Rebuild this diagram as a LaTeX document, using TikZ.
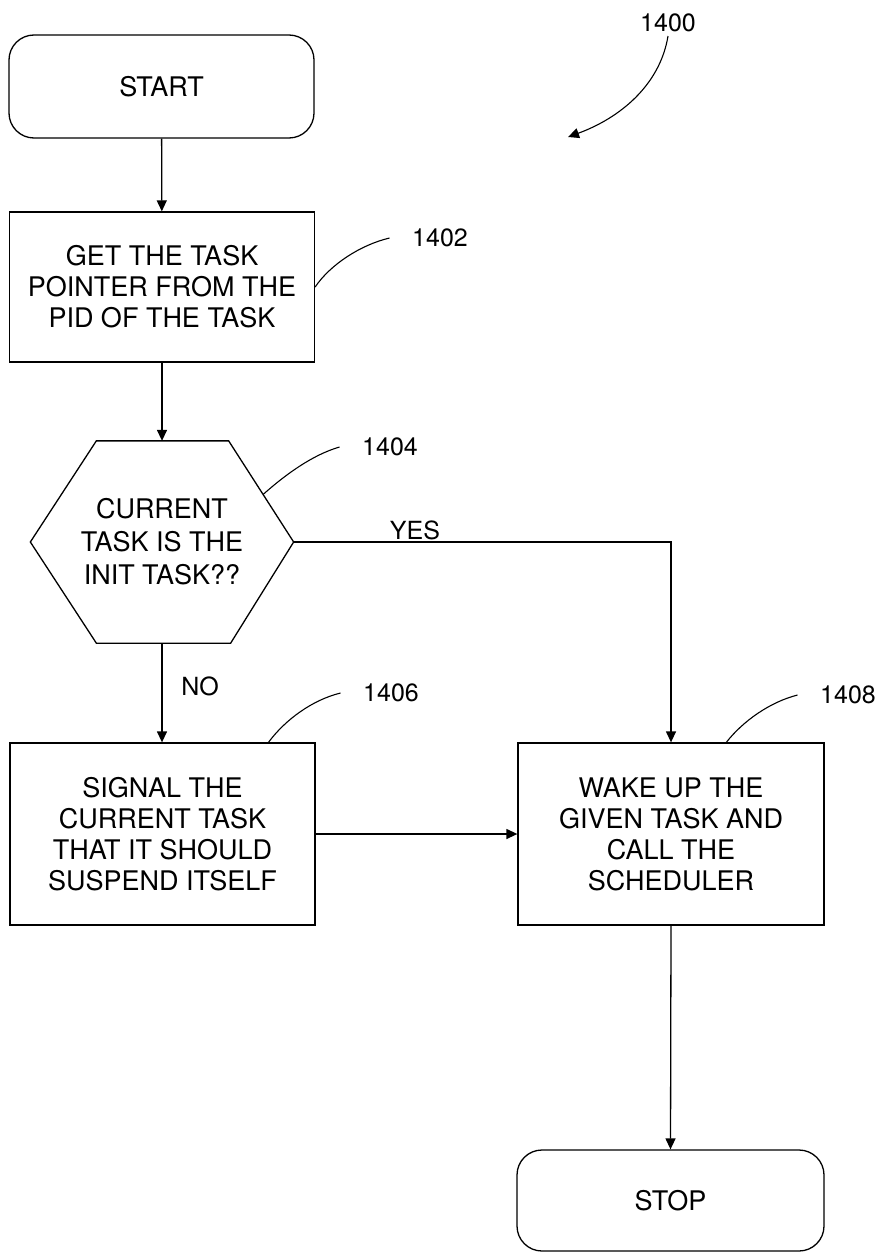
\documentclass[tikz,border=0pt]{standalone}
\usepackage{fontspec}
\setmainfont{TeX Gyre Heros}
\usetikzlibrary{arrows.meta, positioning, calc}

\newcommand{\boxfont}{\fontsize{27}{31}\selectfont}
\newcommand{\lblfont}{\fontsize{25}{29}\selectfont}

\begin{document}
\begin{tikzpicture}[
    x=1pt, y=-1pt,
    line width=1.3pt,
    term/.style={draw, rounded corners=25pt, minimum width=305pt, minimum height=103pt, font=\boxfont},
    proc/.style={draw, align=center, minimum width=305pt, minimum height=182pt, font=\boxfont},
    lbl/.style={inner xsep=22pt, font=\lblfont},
    flow/.style={-{Triangle[length=11pt, width=10pt]}},
    leader/.style={line width=1.1pt}
]
    \useasboundingbox (0,0) rectangle (882,1252);

    % Boxes
    \node[term] (start) at (161.5,86.5) {START};
    \node[proc, minimum height=150pt] (get) at (162,287) {GET THE TASK\\POINTER FROM THE\\PID OF THE TASK};
    \node[align=center, inner sep=0pt, minimum width=262pt, minimum height=201pt,
          font=\fontsize{27}{33}\selectfont] (dec) at (162,542) {CURRENT\\TASK IS THE\\INIT TASK??};
    \node[proc] (sig) at (162.5,834) {SIGNAL THE\\CURRENT TASK\\THAT IT SHOULD\\SUSPEND ITSELF};
    \node[proc, minimum width=306pt] (wake) at (671,834) {WAKE UP THE\\GIVEN TASK AND\\CALL THE\\SCHEDULER};
    \node[term, minimum width=307pt, minimum height=101pt] (stop) at (670.5,1200.5) {STOP};

    % Hexagon
    \coordinate (dec-nw) at ($(dec.north west)+(66,0)$);
    \coordinate (dec-ne) at ($(dec.north east)+(-65,0)$);
    \coordinate (dec-se) at ($(dec.south east)+(-63,0)$);
    \coordinate (dec-sw) at ($(dec.south west)+(66,0)$);
    \draw (dec.west) -- (dec-nw) -- (dec-ne) -- (dec.east) -- (dec-se) -- (dec-sw) -- cycle;

    % Arrows
    \draw[flow] (start) -- (get);
    \draw[flow] (get) -- (dec.north);
    \draw[flow] (dec.south) -- (dec.south |- sig.north);
    \draw[flow] (dec.east) -| (wake.north);
    \draw[flow] (sig.east) -- (wake.west);
    \draw[flow] (wake.south) -- (stop.north);

    % Branch labels
    \node[font=\lblfont] (yes) at (415,530) {YES};
    \node[font=\lblfont] (no) at (200,686) {NO};

    % Reference numerals
    \node[lbl, inner xsep=3pt] (l1400) at (668,23) {1400};
    \coordinate (c1400) at (568,137);
    \draw[flow, leader] (l1400.south) .. controls (660,85) and (620,118) .. (c1400);

    \node[lbl] (l1402) at (440,238) {1402};
    \draw[leader] (l1402.west) .. controls (360,245) and (330,265) .. (get.east);

    \node[lbl] (l1404) at (390,447) {1404};
    \draw[leader] (l1404.west) .. controls (312,455) and (285,475) .. ($(dec-ne)!0.53!(dec.east)$);

    \node[lbl] (l1406) at (391,693) {1406};
    \draw[leader] (l1406.west) .. controls (312,700) and (285,720) .. ($(sig.north west)!0.846!(sig.north east)$);

    \node[lbl] (l1408) at (848,695) {1408};
    \draw[leader] (l1408.west) .. controls (770,702) and (743,721) .. ($(wake.north west)!0.68!(wake.north east)$);
\end{tikzpicture}
\end{document}
